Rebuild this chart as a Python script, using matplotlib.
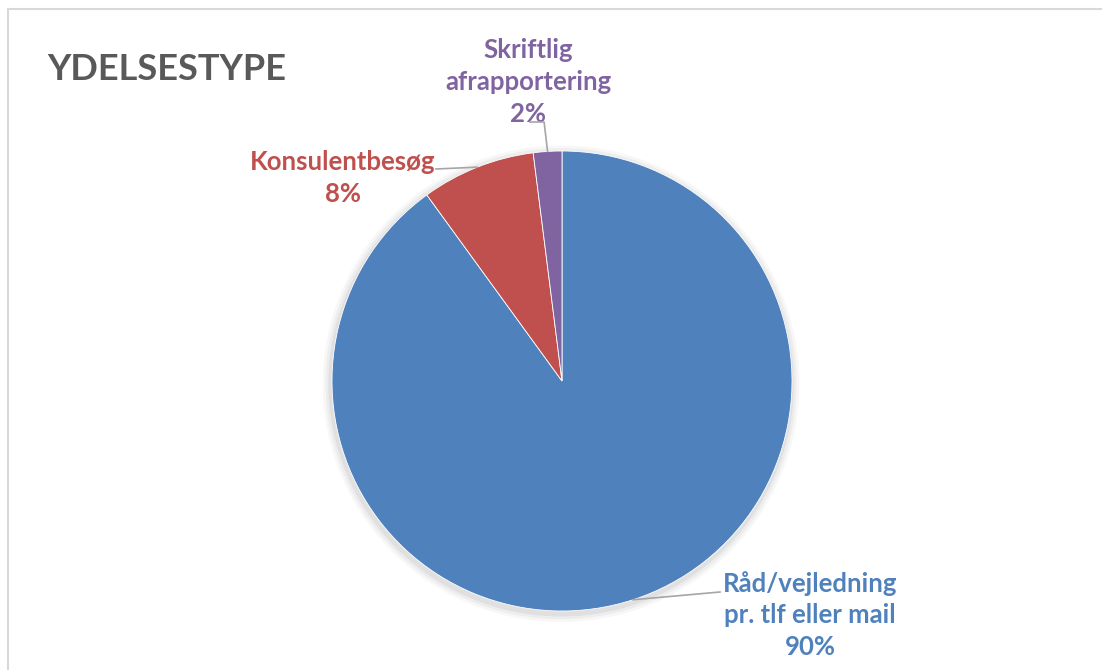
import numpy as np
import matplotlib.pyplot as plt
from matplotlib.patches import Rectangle, Circle

# data
labels = ['Råd/vejledning\npr. tlf eller mail', 'Konsulentbesøg', 'Skriftlig\nafrapportering']
values = [90, 8, 2]
colors = ['#4F81BD', '#C0504D', '#8064A2']
title = 'YDELSESTYPE'

plt.rcParams['font.family'] = ['Lato', 'DejaVu Sans']

fig = plt.figure(figsize=(11.02, 6.70), dpi=100)
fig.patch.set_facecolor('white')

# chart frame
fig.patches.append(Rectangle((8 / 1102, -0.1), 1.2, 1.1 - 9 / 670, transform=fig.transFigure,
                             fill=False, edgecolor='#D9D9D9', linewidth=1.5, zorder=0))

fig.text(47 / 1102, 1 - 80 / 670, title, fontsize=26, fontweight='bold', color='#595959')

# pie axes: centre (562, 381) px, radius 230 px
cx, cy, r = 562, 381, 230
ax = fig.add_axes([(cx - r) / 1102, (670 - cy - r) / 670, 2 * r / 1102, 2 * r / 670])

# soft shadow
for i, a in enumerate([0.05, 0.04, 0.03]):
    ax.add_patch(Circle((-0.004, -0.012), 1.0 + 0.012 * (i + 1), color='black', alpha=a,
                        lw=0, zorder=0, clip_on=False))

wedges, _ = ax.pie(values, colors=colors, startangle=90, counterclock=False, radius=1,
                   wedgeprops=dict(edgecolor='white', linewidth=0.6), center=(0, 0), frame=True)
ax.set_xlim(-1, 1)
ax.set_ylim(-1, 1)
ax.axis('off')

def px(x, y):
    return (x - cx) / r, (cy - y) / r

# label positions (px) and leader start points
text_pos = [(810, 615), (343, 178), (528, 82)]
leader_start = [(720, 592), (436, 169), (530, 122)]

for w, lab, v, c, tp, ls in zip(wedges, labels, values, colors, text_pos, leader_start):
    mid = np.deg2rad((w.theta1 + w.theta2) / 2)
    ex, ey = np.cos(mid), np.sin(mid)
    sx, sy = px(*ls)
    if abs(ex - sx) < 0.1:
        xs, ys = [sx, ex - 0.015, ex], [sy, sy, ey]
    else:
        xs, ys = [sx, ex], [sy, ey]
    ax.plot(xs, ys, color='#A6A6A6', lw=1.2, clip_on=False, zorder=5)
    tx, ty = px(*tp)
    ax.text(tx, ty, f'{lab}\n{v}%', ha='center', va='center', fontsize=18.5,
            fontweight='bold', color=c, linespacing=1.38, clip_on=False)

fig.savefig('out.png', dpi=100)
